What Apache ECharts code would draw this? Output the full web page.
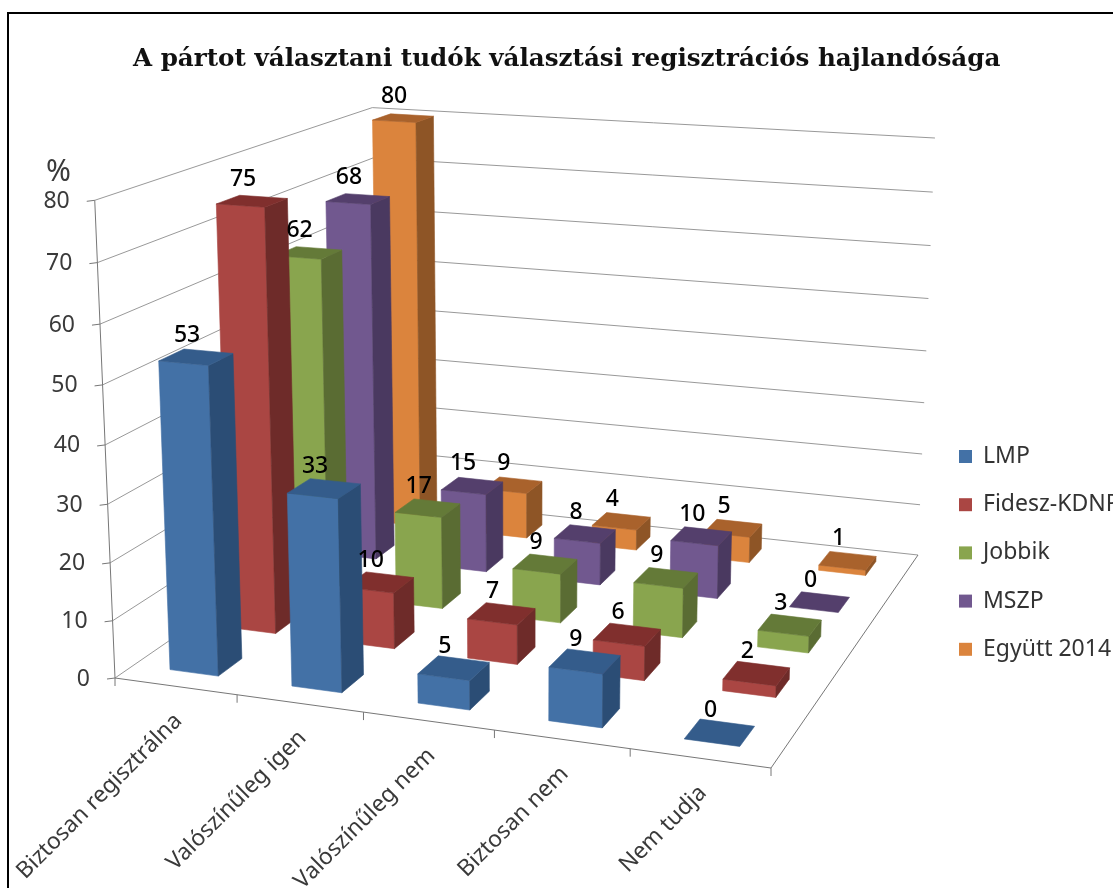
<!DOCTYPE html>
<html><head><meta charset="utf-8">
<style>html,body{margin:0;padding:0;background:#fff}#c{width:1113px;height:888px}</style>
<script src="https://cdn.jsdelivr.net/npm/echarts@6/dist/echarts.min.js"></script>
</head><body><div id="c"></div>
<script>
const titleText = 'A pártot választani tudók választási regisztrációs hajlandósága';
const categories = ['Biztosan regisztrálna','Valószínűleg igen','Valószínűleg nem','Biztosan nem','Nem tudja'];
const seriesNames = ['LMP','Fidesz-KDNP','Jobbik','MSZP','Együtt 2014'];
const lmp = [53,33,5,9,0];
const fidesz = [75,10,7,6,2];
const jobbik = [62,17,9,9,3];
const mszp = [68,15,8,10,0];
const egyutt = [80,9,4,5,1];
const seriesValues = [lmp,fidesz,jobbik,mszp,egyutt];
const yTicks = [0,10,20,30,40,50,60,70,80];
const yMax = 80;
// colours: front, side, top
const palette = [
  ['#4371a6','#2b4d75','#345c8b'],
  ['#aa4643','#6e2b29','#802f2d'],
  ['#89a54e','#5a6c33','#647a38'],
  ['#71588f','#4a3960','#543f6c'],
  ['#db843d','#8e5526','#a9622c']
];
// camera calibration of the 3D box: floor corners and the wall top corners
const floorQuad = [[115,678],[771,768],[918,555],[378,497]];
const topCorners = [[[0,0],[95,201]],[[0,1],[372,108]],[[1,1],[935,137]]];
const barHalf = 0.2, depthHalf = 0.2;

function solve(A,b){const n=b.length,M=A.map((r,i)=>r.concat(b[i]));
  for(let i=0;i<n;i++){let p=i;for(let k=i+1;k<n;k++)if(Math.abs(M[k][i])>Math.abs(M[p][i]))p=k;
    [M[i],M[p]]=[M[p],M[i]];
    for(let k=0;k<n;k++){if(k===i)continue;const f=M[k][i]/M[i][i];for(let j=i;j<=n;j++)M[k][j]-=f*M[i][j];}}
  return M.map((r,i)=>r[n]/r[i]);}
const [q0,q1,q2,q3]=floorQuad;
const dx1=q1[0]-q2[0],dx2=q3[0]-q2[0],sx=q0[0]-q1[0]+q2[0]-q3[0];
const dy1=q1[1]-q2[1],dy2=q3[1]-q2[1],sy=q0[1]-q1[1]+q2[1]-q3[1];
const den=dx1*dy2-dx2*dy1;
const g=(sx*dy2-dx2*sy)/den,hh=(dx1*sy-sx*dy1)/den;
const a=q1[0]-q0[0]+g*q1[0],b=q3[0]-q0[0]+hh*q3[0],c=q0[0];
const d=q1[1]-q0[1]+g*q1[1],e=q3[1]-q0[1]+hh*q3[1],f=q0[1];
const rows=[],rhs=[];
topCorners.forEach(([uv,t])=>{const X=a*uv[0]+b*uv[1]+c,Y=d*uv[0]+e*uv[1]+f,W=g*uv[0]+hh*uv[1]+1;
  rows.push([1,0,-t[0]]);rhs.push(t[0]*W-X);rows.push([0,1,-t[1]]);rhs.push(t[1]*W-Y);});
const NA=[0,1,2].map(i=>[0,1,2].map(j=>rows.reduce((s,r)=>s+r[i]*r[j],0)));
const Nb=[0,1,2].map(i=>rows.reduce((s,r,k)=>s+r[i]*rhs[k],0));
const [px,py,pw]=solve(NA,Nb);
function project(U,V,H){const w=g*U+hh*V+1+pw*H;
  return [(a*U+b*V+c+px*H)/w,(d*U+e*V+f+py*H)/w];}

// logical plane handled by ECharts' scales: x=category band, y=value
const GW=1000,GH=800;
function logical(api,cat,val){const p=api.coord([cat,val]);return {u:p[0]/GW*categories.length, h:(GH-p[1])/GH};}
function P(u,v,h){return project(u/categories.length,v/seriesNames.length,h);}

function poly(points,color,z2){return {type:'polygon',z2,shape:{points},style:{fill:color,stroke:color,lineWidth:0.6},silent:true};}
function seg(p1,p2,color,z2,lw){return {type:'line',z2,shape:{x1:p1[0],y1:p1[1],x2:p2[0],y2:p2[1]},style:{stroke:color,lineWidth:lw||1,fill:null},silent:true};}

function barItem(s){return function(params,api){
  const cat=api.value(0),val=api.value(1);
  const L=logical(api,cat,val);
  const uc=L.u,h=L.h,vc=s+0.5;
  const u0=uc-barHalf*1,u1=uc+barHalf,v0=vc-depthHalf,v1=vc+depthHalf;
  const z=(seriesNames.length-1-s)*10+cat+1;
  const col=palette[s];
  const fb0=P(u0,v0,0),fb1=P(u1,v0,0),bb1=P(u1,v1,0);
  const ft0=P(u0,v0,h),ft1=P(u1,v0,h),bt1=P(u1,v1,h),bt0=P(u0,v1,h);
  const children=[];
  if(val>0){children.push(poly([fb0,fb1,ft1,ft0],col[0],z));
    children.push(poly([fb1,bb1,bt1,ft1],col[1],z));}
  children.push(poly([ft0,ft1,bt1,bt0],col[2],z));
  const tc=P(uc,vc,h);
  children.push({type:'text',z2:1000,silent:true,x:tc[0]-9,y:tc[1]-22,style:{text:String(val),fill:'#000',font:'500 23px "Noto Sans"',textAlign:'center',textVerticalAlign:'middle'}});
  return {type:'group',children};
};}

function frameItem(params,api){
  const ch=[],n=categories.length,m=seriesNames.length,grid='#999999',axis='#777777';
  yTicks.forEach(t=>{
    const h=logical(api,0,t).h;
    const A=P(0,0,h),B=P(0,m,h),C=P(n,m,h);
    ch.push(seg(A,B,grid,0),seg(B,C,grid,0));
    ch.push(seg([A[0]-8,A[1]+1],A,axis,0));
    ch.push({type:'text',z2:5,silent:true,x:A[0]-25,y:A[1]+1,style:{text:String(t),fill:'#3a3a3a',font:'23px "Noto Sans"',textAlign:'right',textVerticalAlign:'middle'}});
  });
  const top=logical(api,0,yMax).h;
  ch.push(seg(P(0,0,0),P(0,0,top),axis,0));
  ch.push(seg(P(0,0,0),P(n,0,0),axis,0),seg(P(n,0,0),P(n,m,0),axis,0));
  for(let i=0;i<=n;i++){const t=P(i,0,0);ch.push(seg(t,[t[0],t[1]+8],axis,0));}
  categories.forEach((name,i)=>{
    const t=P(logical(api,i,0).u,0,0);
    ch.push({type:'text',z2:5,silent:true,x:t[0]+3,y:t[1]+31,rotation:Math.PI/4,style:{text:name,fill:'#3a3a3a',font:'22.8px "Noto Sans"',textAlign:'right',textVerticalAlign:'middle'}});
  });
  return {type:'group',children:ch};
}

const series=[{type:'custom',name:'frame',coordinateSystem:'cartesian2d',z:2,silent:true,animation:false,renderItem:frameItem,data:[[0,0]],clip:false}];
seriesNames.forEach((name,s)=>{
  series.push({type:'custom',name,coordinateSystem:'cartesian2d',z:2,silent:true,animation:false,clip:false,
    itemStyle:{color:palette[s][0]},encode:{x:0,y:1},renderItem:barItem(s),
    data:categories.map((_,i)=>[i,seriesValues[s][i]])});
});

const chart=echarts.init(document.getElementById('c'),null,{renderer:'canvas'});
chart.setOption({
  backgroundColor:'#fff',animation:false,
  title:{text:titleText,left:128,top:42,textStyle:{fontFamily:'"DejaVu Serif"',fontWeight:'bold',fontSize:24.6,color:'#111'}},
  legend:{data:seriesNames,orient:'vertical',left:954,top:440,itemWidth:13,itemHeight:13,itemGap:25.2,icon:'rect',selectedMode:false,
    textStyle:{fontFamily:'"Noto Sans"',fontSize:23,color:'#333',padding:[0,0,0,6]}},
  grid:{left:0,top:0,width:GW,height:GH,show:false},
  xAxis:{type:'category',data:categories,show:false,boundaryGap:true},
  yAxis:{type:'value',min:0,max:yMax,interval:10,show:false},
  graphic:[
    {type:'rect',shape:{x:8,y:13,width:1400,height:1200},style:{fill:'none',stroke:'#000',lineWidth:2},silent:true,z:0},
    {type:'text',x:46,y:157,style:{text:'%',fill:'#3a3a3a',font:'30px "Noto Sans"'},silent:true}
  ],
  series
});
</script></body></html>
